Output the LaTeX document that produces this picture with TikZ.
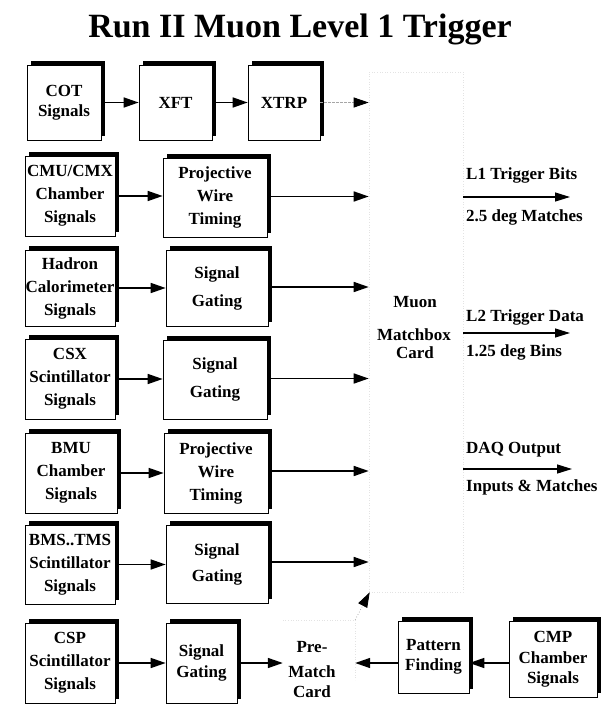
\documentclass[tikz,border=0pt]{standalone}
\usepackage{fontspec}
\setmainfont{Liberation Serif}
\usetikzlibrary{arrows.meta,shadows,calc}
\tikzset{
  blk/.style={draw=black, line width=0.7pt, fill=white, inner sep=0pt, align=center,
    font=\bfseries\fontsize{17}{23}\selectfont,
    general shadow={fill=black, shadow xshift=3.5pt, shadow yshift=4.5pt}},
  txt/.style={inner sep=0pt, align=center, font=\bfseries\fontsize{17}{23}\selectfont},
  lbl/.style={inner sep=0pt, anchor=west, font=\bfseries\fontsize{17}{20}\selectfont},
  arr/.style={line width=1.6pt, -{Triangle[length=15pt,width=10pt]}},
  arrthin/.style={line width=1.3pt, -{Triangle[length=15pt,width=9pt]}},
  faint/.style={draw=gray!22, dotted, line width=0.6pt},
}
\begin{document}
\begin{tikzpicture}[x=1pt,y=-1pt]
\useasboundingbox (0,0) rectangle (602,704);
\node[font=\bfseries\fontsize{34}{40}\selectfont] (title) at (300,29) {Run II Muon Level 1 Trigger};

% matchbox card (faint outline)
\node[faint, minimum width=94pt, minimum height=520pt, inner sep=0pt] (mbx) at (416,332) {};
\node[txt] (mb1) at (415,302) {Muon};
\node[txt] (mb2) at (414,335) {Matchbox};
\node[txt] (mb3) at (415,353) {Card};

% row 1
\node[blk, minimum width=74pt, minimum height=75pt] (cot) at (64,102.5) {COT\\[-3pt]Signals};
\node[blk, minimum width=73pt, minimum height=75pt] (xft) at (175.5,102.5) {XFT};
\node[blk, minimum width=72pt, minimum height=75pt] (xtrp) at (284,102.5) {XTRP};

% left column
\node[blk, minimum width=90pt, minimum height=80pt] (cmu) at (70,196) {CMU/CMX\\Chamber\\Signals};
\node[blk, minimum width=90pt, minimum height=76pt] (had) at (70,288) {Hadron\\Calorimeter\\Signals};
\node[blk, minimum width=90pt, minimum height=80pt] (csx) at (70,379) {CSX\\Scintillator\\Signals};
\node[blk, minimum width=92pt, minimum height=80pt] (bmu) at (71,473) {BMU\\Chamber\\Signals};
\node[blk, minimum width=90pt, minimum height=79pt] (bms) at (70,564.5) {BMS..TMS\\Scintillator\\Signals};
\node[blk, minimum width=90pt, minimum height=80pt] (csp) at (70,663) {CSP\\Scintillator\\Signals};

% second column
\node[blk, minimum width=104pt, minimum height=79pt] (pwt1) at (215,197.5) {Projective\\Wire\\Timing};
\node[blk, minimum width=102pt, minimum height=76pt] (sg1) at (217,288) {Signal\\[5pt]Gating};
\node[blk, minimum width=104pt, minimum height=79pt] (sg2) at (215,379.5) {Signal\\[5pt]Gating};
\node[blk, minimum width=104pt, minimum height=80pt] (pwt2) at (216,473) {Projective\\Wire\\Timing};
\node[blk, minimum width=102pt, minimum height=78pt] (sg3) at (217,564) {Signal\\[3pt]Gating};
\node[blk, minimum width=71pt, minimum height=80pt] (sg4) at (201.5,663) {Signal\\[-2pt]Gating};

% bottom row
\node[inner sep=0pt, minimum width=72pt, minimum height=80pt] (pm) at (319,660) {};
\node[txt] (pmt) at (312,670) {Pre-\\[2pt]Match\\[-3pt]Card};
\draw[faint] (pm.north west) -- (pm.north east) -- ($(pm.east)+(0,20)$);
\node[blk, minimum width=71pt, minimum height=72pt] (pf) at (433.5,657) {Pattern\\[-3pt]Finding};
\node[blk, minimum width=88pt, minimum height=76pt] (cmp) at (553,659) {CMP\\[-2pt]Chamber\\[-3pt]Signals};

% connectors row 1
\draw[arr] (cot.east) -- (xft.west);
\draw[arr] (xft.east) -- (xtrp.west);
\draw[line width=0.9pt, draw=gray!70, dash pattern=on 3pt off 1pt, -{Triangle[length=15pt,width=10pt,color=black]}] (xtrp.east) -- (xtrp.east -| mbx.west);

% left to middle
\draw[arr] (cmu.east) -- (cmu.east -| pwt1.west);
\draw[arr] (had.east) -- (had.east -| sg1.west);
\draw[arr] (csx.east) -- (csx.east -| sg2.west);
\draw[arr] (bmu.east) -- (bmu.east -| pwt2.west);
\draw[arr] (bms.east) -- (bms.east -| sg3.west);
\draw[arr] (csp.east) -- (csp.east -| sg4.west);

% middle to matchbox
\draw[arr] ([yshift=1pt]pwt1.east) -- ([yshift=1pt]pwt1.east -| mbx.west);
\draw[arr] ([yshift=1pt]sg1.east) -- ([yshift=1pt]sg1.east -| mbx.west);
\draw[arr] ([yshift=1pt]sg2.east) -- ([yshift=1pt]sg2.east -| mbx.west);
\draw[arr] ([yshift=2pt]pwt2.east) -- ([yshift=2pt]pwt2.east -| mbx.west);
\draw[arr] ([yshift=2pt]sg3.east) -- ([yshift=2pt]sg3.east -| mbx.west);
\draw[arr] (sg4.east) -- (sg4.east -| pm.west);

% bottom right
\draw[arr] ([yshift=-4pt]cmp.west) -- ([yshift=-4pt]cmp.west -| pf.east);
\draw[arr] ([yshift=-6pt]pf.west) -- ([yshift=-6pt]pf.west -| pm.east);
\draw[line width=0.8pt, draw=gray!60, dotted, -{Triangle[length=15pt,width=10pt,color=black]}] (pm.north east) -- ($(mbx.south west)+(1,0)$);

% outputs
\coordinate (o1) at (570,197);
\coordinate (o2) at (570,333);
\coordinate (o3) at (572,469);
\draw[arrthin] (o1 -| mbx.east) -- (o1);
\draw[arrthin] (o2 -| mbx.east) -- (o2);
\draw[arrthin] (o3 -| mbx.east) -- (o3);
\node[lbl] (l1a) at (466,175) {L1 Trigger Bits};
\node[lbl] (l1b) at (466,217) {2.5 deg Matches};
\node[lbl] (l2a) at (466,317) {L2 Trigger Data};
\node[lbl] (l2b) at (466,352) {1.25 deg Bins};
\node[lbl] (l3a) at (466,450) {DAQ Output};
\node[lbl] (l3b) at (466,487) {Inputs \& Matches};
\end{tikzpicture}
\end{document}
